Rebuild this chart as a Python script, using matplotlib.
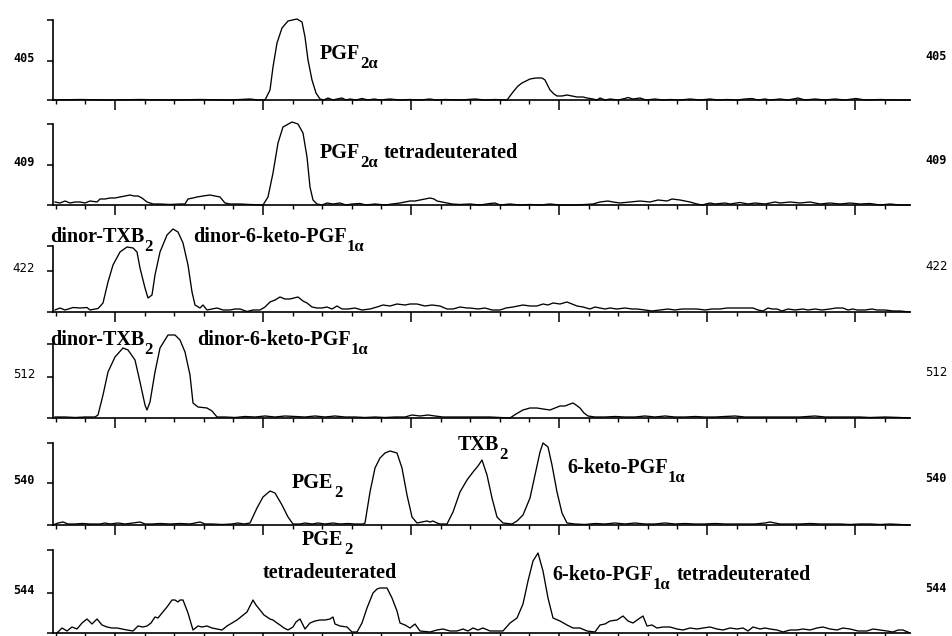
import numpy as np
import matplotlib.pyplot as plt
from matplotlib.transforms import blended_transform_factory

# ion traces: (scan, relative intensity)
trace_405 = [
    (53, 0), (80, 0.5), (110, 0), (140, 0.5), (170, 0), (200, 0.5), (230, 0), (250, 1), (258, 0),
    (265, 0), (270, 10), (273, 33), (277, 57), (282, 72), (288, 79), (297, 81), (302, 78), (305, 63),
    (308, 40), (312, 20), (316, 7), (320, 1), (324, 0), (328, 2), (333, 0), (337, 1), (342, 2), (346, 0),
    (350, 1), (356, 0), (362, 1.5), (368, 0), (374, 1), (380, 0), (390, 1), (400, 0), (410, 0.5), (420, 0),
    (430, 1), (436, 0), (445, 0.5), (460, 0), (475, 1), (485, 0), (495, 0.5), (507, 0), (513, 8), (518, 14),
    (522, 17), (530, 21), (536, 22), (542, 22), (545, 20), (550, 10), (554, 6), (557, 4), (562, 4), (567, 5),
    (572, 4), (577, 3), (583, 3), (587, 2), (593, 1), (597, 0), (600, 2), (605, 0), (610, 1), (618, 0),
    (625, 1.5), (628, 2.5), (633, 1), (640, 2), (646, 0), (655, 1), (663, 0), (670, 0.5), (680, 0), (690, 1),
    (700, 0), (710, 1), (718, 0), (727, 0.5), (737, 0), (745, 1), (752, 1.5), (758, 0), (765, 1), (770, 0),
    (780, 1), (788, 0), (798, 2), (805, 0), (815, 1), (825, 0), (835, 1), (845, 0), (856, 1.5), (865, 0),
    (880, 0.5), (895, 0), (910, 0),
]
trace_409 = [
    (55, 3), (60, 2), (65, 4), (70, 2), (75, 3), (80, 3), (85, 2), (90, 4), (97, 3), (100, 6), (105, 6),
    (110, 7), (115, 7), (120, 8), (125, 9), (130, 10), (134, 9), (138, 9), (142, 7), (147, 3), (153, 1),
    (160, 1), (170, 0.5), (180, 1), (185, 1), (188, 6), (193, 7), (197, 8), (203, 9), (210, 10), (215, 9),
    (220, 8), (225, 2), (230, 1), (240, 1), (250, 0.5), (263, 0), (268, 8), (273, 32), (278, 62), (283, 78),
    (292, 83), (298, 81), (303, 72), (307, 48), (310, 18), (313, 5), (317, 1), (322, 0), (327, 2), (333, 1),
    (340, 2), (346, 0), (352, 1), (360, 1.5), (366, 0), (375, 1), (385, 0), (392, 1), (400, 2), (405, 3),
    (410, 4), (415, 4), (420, 5), (425, 6), (430, 7), (434, 6), (437, 4), (442, 3), (447, 2), (452, 1),
    (460, 0.5), (470, 1), (480, 0), (490, 1.5), (495, 2), (500, 0), (510, 1), (520, 0), (530, 0.5), (540, 0),
    (550, 1), (560, 0), (575, 0), (585, 0.5), (593, 1), (600, 3), (608, 4), (613, 3), (620, 2), (630, 3),
    (640, 4), (650, 3), (658, 5), (667, 4), (672, 6), (680, 5), (690, 3), (697, 1), (702, 0), (710, 2),
    (715, 1), (725, 2), (730, 1), (740, 2.5), (748, 1), (755, 2), (765, 1), (775, 3), (780, 2), (790, 3),
    (800, 2), (810, 3), (820, 1), (830, 2), (840, 1), (850, 2), (860, 1), (870, 1.5), (880, 0), (890, 1),
    (900, 0), (910, 0),
]
trace_422 = [
    (55, 2), (60, 4), (65, 2), (73, 4.5), (80, 4), (87, 4.5), (90, 2), (95, 3), (98, 3.5), (103, 9),
    (108, 30), (113, 47), (120, 60), (127, 65), (133, 64), (137, 60), (140, 44), (145, 24), (148, 14),
    (152, 17), (155, 37), (160, 60), (167, 77), (173, 83), (178, 80), (183, 69), (188, 47), (192, 20),
    (195, 7), (200, 4), (203, 7), (207, 2), (212, 3), (217, 4), (223, 2), (230, 2), (235, 3), (240, 3),
    (247, 0.5), (253, 2), (260, 2), (265, 5), (270, 10), (275, 12), (280, 15), (285, 13), (290, 13),
    (294, 14), (298, 15), (303, 11), (307, 9), (312, 5), (317, 4), (322, 4), (327, 5), (332, 3), (337, 6),
    (342, 3), (348, 3), (355, 4), (362, 2), (370, 3), (377, 5), (383, 7), (390, 6), (397, 8), (405, 7),
    (410, 8), (417, 8), (425, 6), (432, 7), (440, 6), (447, 3), (453, 3), (460, 5), (467, 4), (470, 4),
    (478, 3), (485, 4), (492, 2), (500, 2), (506, 4), (513, 5), (518, 6), (523, 7), (530, 6), (537, 6),
    (543, 8), (548, 7), (553, 9), (560, 8), (567, 10), (572, 8), (577, 6), (583, 5), (590, 3), (595, 5),
    (600, 4), (605, 3), (610, 4), (617, 3), (625, 4), (632, 3), (637, 3), (645, 2), (652, 1), (660, 2),
    (668, 3), (675, 2), (682, 3), (690, 3), (697, 3), (705, 2), (712, 3), (720, 3), (727, 4), (733, 4),
    (740, 4), (747, 4), (753, 4), (758, 2), (763, 1), (768, 4), (772, 3), (777, 3), (782, 1), (788, 3),
    (795, 2), (803, 3), (808, 2), (815, 3), (822, 2), (830, 3), (836, 4), (843, 4), (848, 2), (853, 3),
    (857, 2), (865, 2), (872, 3), (877, 2), (885, 2), (893, 1), (900, 1), (910, 0),
]
trace_512 = [
    (55, 1), (65, 1), (75, 0.5), (85, 1), (95, 1), (98, 3), (103, 23), (108, 46), (115, 61), (123, 70),
    (128, 68), (135, 58), (140, 36), (145, 13), (147, 8), (150, 16), (155, 46), (160, 70), (168, 83),
    (175, 83), (180, 78), (185, 66), (190, 43), (193, 15), (198, 11), (207, 10), (212, 7), (217, 1),
    (225, 1), (235, 0.5), (245, 1.5), (255, 1), (265, 2), (275, 1), (285, 2), (295, 1.5), (305, 1),
    (315, 2), (325, 1), (335, 2), (345, 1), (355, 1), (365, 0.5), (375, 1), (385, 0.5), (395, 1), (405, 1),
    (412, 3), (420, 2), (428, 3), (435, 2), (443, 1), (450, 1), (460, 1), (470, 1), (480, 1), (490, 1),
    (500, 0.5), (510, 0), (516, 4), (523, 8), (530, 10), (537, 10), (543, 9), (550, 8), (555, 10),
    (560, 12), (565, 12), (570, 14), (573, 15), (576, 13), (580, 10), (584, 5), (588, 2), (595, 1),
    (605, 1), (615, 1.5), (625, 1), (635, 1), (645, 2), (655, 1), (665, 2), (675, 1), (685, 1), (695, 1.5),
    (705, 1), (715, 1), (725, 1.5), (735, 2), (745, 1), (755, 1), (765, 1), (775, 1), (785, 1), (800, 1),
    (815, 2), (825, 1), (840, 1), (850, 1), (860, 1), (870, 0.5), (885, 1), (900, 0.5), (910, 0),
]
trace_540 = [
    (53, 0), (58, 2), (63, 3), (68, 1), (75, 1), (82, 1.5), (90, 1), (100, 1), (105, 2), (110, 1),
    (118, 2), (125, 1), (133, 2), (140, 3), (145, 1), (152, 1), (160, 1.5), (170, 1), (180, 1.5), (190, 1),
    (195, 2), (200, 3), (205, 1), (212, 1), (222, 0.5), (232, 1), (238, 2), (244, 1), (250, 2), (257, 17),
    (263, 28), (270, 34), (275, 32), (282, 20), (288, 8), (293, 1), (300, 1), (305, 2), (312, 1), (318, 2),
    (325, 1), (333, 2), (340, 1), (348, 1.5), (355, 1), (363, 1), (365, 2), (370, 33), (375, 57), (380, 67),
    (385, 72), (390, 74), (397, 72), (402, 57), (407, 30), (412, 8), (417, 2), (422, 3), (427, 4), (430, 3),
    (433, 4), (437, 2), (440, 1), (447, 1), (453, 13), (460, 33), (467, 45), (473, 53), (478, 59), (482, 65),
    (487, 50), (492, 27), (497, 8), (503, 2), (512, 1), (517, 4), (523, 10), (530, 27), (535, 50), (540, 73),
    (543, 82), (548, 78), (552, 60), (557, 33), (562, 12), (567, 2), (575, 1), (585, 0.5), (595, 1.5),
    (605, 1), (615, 2), (625, 1), (635, 2), (645, 1), (655, 1), (665, 2), (675, 1), (685, 1.5), (695, 1),
    (705, 1), (715, 1.5), (725, 1), (735, 1), (745, 1), (755, 1), (765, 2), (770, 3), (775, 2), (780, 1),
    (790, 1), (800, 1), (810, 1.5), (820, 1), (830, 1), (840, 1), (850, 0.5), (860, 1), (870, 1),
    (880, 0.5), (890, 1), (900, 0.5), (910, 0),
]
trace_544 = [
    (57, 0), (62, 5), (67, 2), (72, 6), (77, 4), (82, 10), (87, 14), (92, 9), (97, 14), (102, 8), (107, 6),
    (112, 5), (117, 5), (122, 4), (127, 3), (133, 2), (138, 7), (143, 6), (147, 7), (151, 10), (155, 16),
    (158, 15), (162, 20), (167, 26), (172, 33), (175, 33), (178, 31), (180, 33), (183, 33), (188, 20),
    (193, 3), (198, 7), (202, 6), (207, 7), (212, 5), (217, 4), (222, 3), (227, 7), (232, 10), (237, 13),
    (242, 17), (247, 21), (250, 27), (253, 33), (256, 28), (260, 23), (264, 18), (267, 16), (270, 14),
    (273, 13), (277, 10), (280, 8), (284, 5), (288, 3), (293, 6), (296, 11), (300, 14), (303, 8), (305, 4),
    (310, 10), (315, 12), (320, 13), (325, 13), (330, 14), (333, 16), (335, 9), (340, 7), (347, 6), (352, 1),
    (357, 1), (362, 10), (367, 25), (373, 40), (377, 44), (380, 45), (387, 45), (392, 35), (397, 22),
    (400, 10), (405, 8), (410, 5), (415, 9), (420, 2), (430, 1), (437, 3), (443, 4), (450, 2), (457, 2),
    (463, 4), (468, 2), (473, 5), (478, 3), (483, 5), (490, 2), (497, 2), (503, 2), (510, 10), (517, 15),
    (523, 29), (528, 52), (533, 72), (538, 80), (543, 62), (548, 35), (553, 15), (560, 12), (567, 8),
    (573, 5), (580, 5), (587, 2), (595, 1), (600, 8), (605, 9), (610, 12), (617, 13), (623, 17), (628, 12),
    (633, 10), (640, 15), (643, 17), (647, 7), (652, 8), (657, 5), (663, 6), (670, 6), (677, 4), (683, 3),
    (690, 5), (697, 4), (703, 5), (710, 6), (717, 4), (723, 3), (730, 5), (737, 4), (743, 5), (748, 2),
    (753, 6), (760, 4), (765, 5), (770, 4), (777, 3), (783, 1), (790, 3), (797, 3), (803, 4), (810, 3),
    (817, 5), (823, 6), (830, 4), (837, 3), (843, 5), (850, 4), (858, 2), (867, 2), (873, 4), (880, 3),
    (887, 2), (893, 1), (898, 3), (903, 3), (910, 0),
]

ions = ['405', '409', '422', '512', '540', '544']
traces = [trace_405, trace_409, trace_422, trace_512, trace_540, trace_544]

# peak labels per panel: (name, subscript, trailing text, scan, intensity)
peak_labels = [
    [('PGF', '2α', '', 320, 41)],
    [('PGF', '2α', 'tetradeuterated', 320, 47)],
    [('dinor-TXB', '2', '', 50, 70), ('dinor-6-keto-PGF', '1α', '', 193, 70)],
    [('dinor-TXB', '2', '', 50, 73), ('dinor-6-keto-PGF', '1α', '', 197, 73)],
    [('PGE', '2', '', 292, 37), ('TXB', '2', '', 458, 75), ('6-keto-PGF', '1α', '', 567, 52)],
    [('PGE', '2', '', 302, 88), ('tetradeuterated', '', '', 263, 55),
     ('6-keto-PGF', '1α', 'tetradeuterated', 552, 53)],
]

# layout (pixels in a 952x636 figure)
W, H = 952, 636
baselines = [100, 205, 312, 418, 525, 633]
axis_tops = [80, 81, 66, 74, 82, 83]
mid_ticks = [39, 40, 41, 41, 42, 40]
mono = [True, True, False, False, True, True]

fig = plt.figure(figsize=(W / 100, H / 100), dpi=100)
main_style = dict(family='Liberation Serif', weight='bold', fontsize=14.5)
sub_style = dict(family='Liberation Serif', weight='bold', fontsize=12)

for i in range(6):
    ax = fig.add_axes([53 / W, (H - baselines[i]) / H, 857 / W, 90 / H])
    ax.set_xlim(53, 910)
    ax.set_ylim(0, 90)
    d = np.array(traces[i])
    ax.plot(d[:, 0], d[:, 1], color='black', lw=0.95, clip_on=False)

    for s in ['top', 'right']:
        ax.spines[s].set_visible(False)
    ax.spines['bottom'].set_linewidth(1.2)
    ax.spines['left'].set_linewidth(1.2)
    ax.spines['left'].set_bounds(0, axis_tops[i])

    ax.set_xticks([115, 263, 411, 559, 707, 855])
    ax.set_xticks(np.arange(55.8, 910, 29.6), minor=True)
    ax.tick_params(axis='x', which='major', length=7, width=1.1, labelbottom=False)
    ax.tick_params(axis='x', which='minor', length=3, width=1.0)
    ax.set_yticks([0, mid_ticks[i], axis_tops[i]])
    ax.set_yticklabels([])
    ax.tick_params(axis='y', length=4, width=1.1)

    fam = 'DejaVu Sans Mono' if mono[i] else 'DejaVu Sans'
    wt = 'bold' if mono[i] else 'normal'
    tr = blended_transform_factory(fig.transFigure, ax.transData)
    ax.text(35 / W, mid_ticks[i] + 3, ions[i], transform=tr, ha='right', va='center',
            family=fam, weight=wt, fontsize=8.5)
    ax.text(925 / W, mid_ticks[i] + 4, ions[i], transform=tr, ha='left', va='center',
            family=fam, weight=wt, fontsize=8.5)

    # names with dropped subscripts, as typeset on the original figure
    for name, sub, rest, x, y in peak_labels[i]:
        t = ax.text(x, y, name, ha='left', va='baseline', **main_style)
        last = t
        if sub:
            last = ax.annotate(sub, xy=(1, 0), xycoords=t, xytext=(0.3, -5.5),
                               textcoords='offset points', ha='left', va='bottom', **sub_style)
        if rest:
            ax.annotate(rest, xy=(1, 0), xycoords=(last, t), xytext=(4, 0),
                        textcoords='offset points', ha='left', va='bottom', **main_style)

fig.savefig('out.png', dpi=100)
